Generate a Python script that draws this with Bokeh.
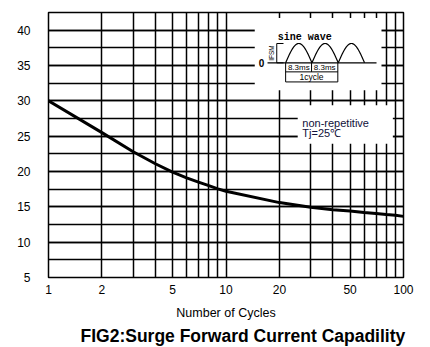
import numpy as np
from bokeh.plotting import figure
from bokeh.models import Range1d, LinearScale, FixedTicker, SingleIntervalTicker, Title
from bokeh.core.properties import value
from bokeh.embed import file_html
from bokeh.resources import INLINE

# ---- data ----
cycles = [1, 2, 3, 4, 5, 6, 7, 8, 9, 10, 20, 30, 40, 50, 60, 70, 80, 90, 100]
ifsm = [30.0, 25.5, 22.8, 21.1, 19.9, 19.1, 18.5, 18.0, 17.55, 17.2,
        15.6, 14.95, 14.6, 14.4, 14.2, 14.05, 13.9, 13.8, 13.65]
x_major = [1, 2, 5, 10, 20, 50, 100]
x_minor = [3, 4, 6, 7, 8, 9, 30, 40, 60, 70, 80, 90]
y_ticks = [5, 10, 15, 20, 25, 30, 35, 40]

FONT = "Liberation Sans"

p = figure(width=430, height=347, x_axis_type="log",
           x_range=Range1d(1, 100), y_range=Range1d(5, 42.5),
           output_backend="svg", toolbar_location=None,
           min_border_left=48, min_border_right=27,
           min_border_top=12, min_border_bottom=70,
           background_fill_color="white", border_fill_color="white")

# frame-fraction coordinate space for the inset schematic
p.extra_x_ranges = {"u": Range1d(0, 1)}
p.extra_y_ranges = {"v": Range1d(0, 1)}
p.extra_x_scales = {"u": LinearScale()}
p.extra_y_scales = {"v": LinearScale()}

p.outline_line_color = "black"
p.outline_line_width = 1.5

# axes
p.xaxis.ticker = FixedTicker(ticks=x_major, minor_ticks=x_minor)
p.yaxis.ticker = SingleIntervalTicker(interval=5, num_minor_ticks=2)
p.xaxis.major_label_overrides = {t: str(t) for t in x_major}
p.yaxis.major_label_overrides = {t: str(t) for t in y_ticks}
for ax in (p.xaxis[0], p.yaxis[0]):
    ax.axis_line_color = None
    ax.major_tick_line_color = None
    ax.minor_tick_line_color = None
    ax.major_label_text_font = FONT
    ax.major_label_text_font_size = "12px"
    ax.major_label_text_color = "black"
p.yaxis.major_label_standoff = 12
p.xaxis.major_label_standoff = 1
p.xaxis.axis_label = "Number of Cycles"
p.xaxis.axis_label_text_font = FONT
p.xaxis.axis_label_text_font_size = "12.5px"
p.xaxis.axis_label_text_font_style = "normal"
p.xaxis.axis_label_text_color = "black"
p.xaxis.axis_label_standoff = 9

# grid
for g in (p.xgrid[0], p.ygrid[0]):
    g.grid_line_color = "black"
    g.grid_line_width = 1.5
    g.minor_grid_line_color = "black"
    g.minor_grid_line_width = 1.5

# curve
p.line(cycles, ifsm, line_color="black", line_width=3)

# white boxes for the insets
p.quad(left=[0.581, 0.702], right=[0.938, 0.970], bottom=[0.707, 0.505], top=[0.979, 0.650],
       fill_color="white", line_color=None, x_range_name="u", y_range_name="v")

# sine-wave schematic
base_v = 0.810
amp = 0.073
hump_w = 0.0741
hump0 = 0.668
t = np.linspace(0, 1, 40)
for k in range(3):
    p.line(hump0 + k * hump_w + hump_w * t, base_v + amp * np.sin(np.pi * t),
           line_color="black", line_width=1.2, x_range_name="u", y_range_name="v")
p.line([0.617, 0.924], [base_v, base_v], line_color="black", line_width=1.2,
       x_range_name="u", y_range_name="v")
# IFSM bracket
p.line([0.662, 0.643, 0.643, 0.662], [base_v + amp, base_v + amp, base_v, base_v],
       line_color="black", line_width=1, x_range_name="u", y_range_name="v")
# dimension lines
p.multi_line(xs=[[0.668, 0.668], [0.815, 0.815], [0.741, 0.741], [0.668, 0.815], [0.668, 0.815]],
             ys=[[base_v, 0.738], [base_v, 0.738], [base_v, 0.776], [0.776, 0.776], [0.738, 0.738]],
             line_color="black", line_width=1, x_range_name="u", y_range_name="v")

p.text(x=[0.646], y=[0.907], text=["sine wave"], text_font=value("Liberation Mono"),
       text_font_size="10px", text_font_style="bold", text_baseline="middle",
       text_align="left", x_range_name="u", y_range_name="v")
p.text(x=[0.600], y=[base_v], text=["0"], text_font=value(FONT), text_font_size="10px",
       text_font_style="bold", text_baseline="middle", text_align="center",
       x_range_name="u", y_range_name="v")
p.text(x=[0.627], y=[0.847], text=["IFSM"], text_font=value(FONT), text_font_size="6.5px",
       angle=np.pi / 2, text_baseline="middle", text_align="center",
       x_range_name="u", y_range_name="v")
p.text(x=[0.705, 0.778], y=[0.793, 0.793], text=["8.3ms", "8.3ms"], text_font=value(FONT),
       text_font_size="8px", text_baseline="middle", text_align="center",
       x_range_name="u", y_range_name="v")
p.text(x=[0.741], y=[0.757], text=["1cycle"], text_font=value(FONT),
       text_font_size="8.5px", text_baseline="middle", text_align="center",
       x_range_name="u", y_range_name="v")

p.text(x=[0.715, 0.715], y=[0.583, 0.544], text=["non-repetitive", "Tj=25℃"],
       text_font=value(FONT), text_font_size="11px", text_color="#10103a",
       text_baseline="middle", text_align="left", x_range_name="u", y_range_name="v")

p.add_layout(Title(text="FIG2:Surge Forward Current Capadility", text_font=FONT,
                   text_font_size="17.5px", text_font_style="bold", text_color="black",
                   align="left", offset=32, standoff=2), "below")

open("out.html", "w").write(file_html(p, INLINE))
